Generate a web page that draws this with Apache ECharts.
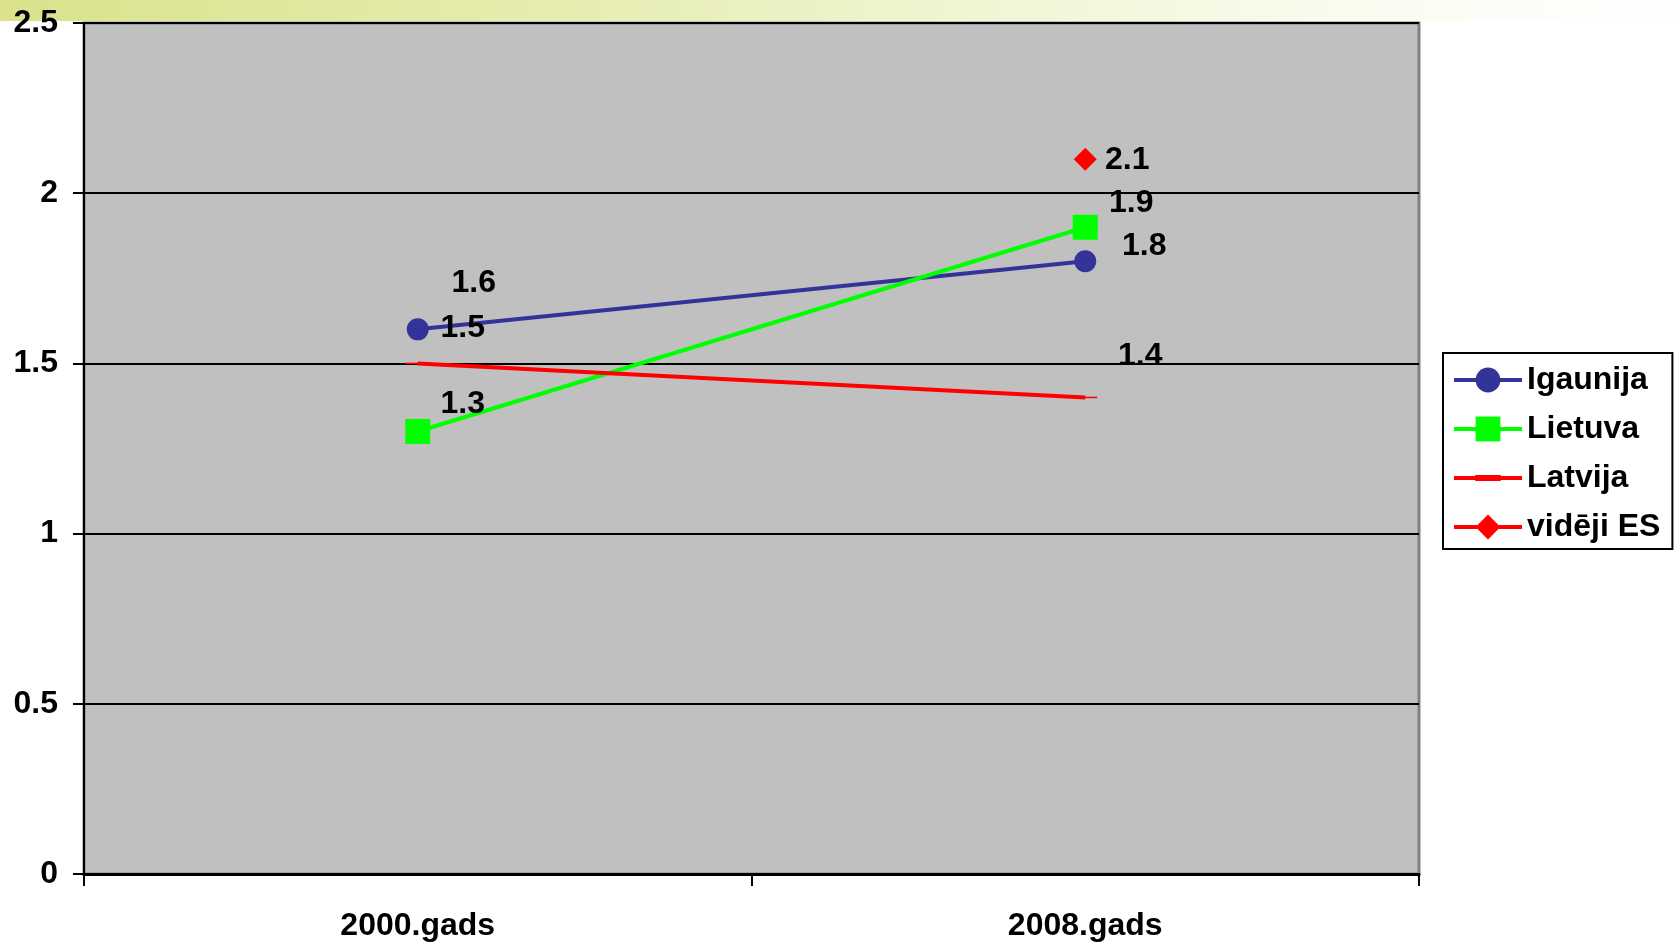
<!DOCTYPE html>
<html><head><meta charset="utf-8">
<script src="https://cdn.jsdelivr.net/npm/echarts@6/dist/echarts.min.js"></script>
<style>html,body{margin:0;padding:0;background:#fff}#c{width:1674px;height:943px}</style>
</head><body><div id="c"></div>
<script>
// ---- data ----
const categories = ['2000.gads', '2008.gads'];
const seriesNames = ['Igaunija', 'Lietuva', 'Latvija', 'vidēji ES'];
const igaunija = [1.6, 1.8];
const lietuva = [1.3, 1.9];
const latvija = [1.5, 1.4];
const videjiES = [null, 2.1];
const yMin = 0, yMax = 2.5, yInterval = 0.5;

// ---- styles ----
const FONT = "'Liberation Sans', Arial, sans-serif";
const labelOffsets = [
  [[56, -46], [59, -15]],
  [[45, -27], [46, -24]],
  [[45, -35], [55, -41]],
  [[0, 0], [42, 1]]
];
const colors = ['#333399', '#00FF00', '#FF0000', '#FF0000'];
const symbols = ['circle', 'rect', 'path://M0,0 H24 V6 H0 Z', 'diamond'];
const symbolSizes = [22, 25, [24, 6], 23];
const lineWidths = [4, 4, 4, 4];
const latvijaLegendIcon = 'path://M0,1 H67 V5 H0 Z M21,0 H46 V6 H21 Z';

const values = [igaunija, lietuva, latvija, videjiES];

const labelBase = {
  show: true, position: 'inside', color: '#000', fontFamily: FONT,
  fontWeight: 'bold', fontSize: 32, align: 'center', verticalAlign: 'middle'
};

const series = values.map((arr, si) => ({
  name: seriesNames[si],
  type: 'line',
  data: arr.map((v, i) => ({
    value: v,
    label: Object.assign({}, labelBase, { offset: labelOffsets[si][i] })
  })),
  symbol: symbols[si],
  symbolSize: symbolSizes[si],
  symbolKeepAspect: true,
  showAllSymbol: true,
  connectNulls: false,
  lineStyle: { color: colors[si], width: lineWidths[si] },
  itemStyle: { color: colors[si] },
  z: 3 + si
}));

const chart = echarts.init(document.getElementById('c'), null, { renderer: 'canvas' });
chart.setOption({
  animation: false,
  backgroundColor: '#fff',
  graphic: [{
    type: 'rect', z: -10, silent: true,
    shape: { x: 0, y: 0, width: 1674, height: 21 },
    style: {
      fill: new echarts.graphic.LinearGradient(0, 0, 1, 0, [
        { offset: 0, color: '#DBE28A' },
        { offset: 0.35, color: '#E7EDB2' },
        { offset: 0.6, color: '#F1F6D6' },
        { offset: 0.85, color: '#FBFDF4' },
        { offset: 1, color: '#FFFFFF' }
      ])
    }
  }],
  grid: {
    left: 84, right: 255, top: 23, bottom: 69,
    show: true, backgroundColor: '#C0C0C0', borderColor: '#808080', borderWidth: 3
  },
  legend: {
    orient: 'vertical',
    left: 1443, top: 353,
    padding: [11, 12, 6, 9],
    itemWidth: 68, itemHeight: 31, itemGap: 17,
    borderColor: '#000', borderWidth: 2, backgroundColor: '#fff',
    lineStyle: { width: 4 },
    textStyle: { fontFamily: FONT, fontWeight: 'bold', fontSize: 32, color: '#000', lineHeight: 32, padding: [0, 0, 0, 0] },
    data: [
      { name: seriesNames[0] },
      { name: seriesNames[1] },
      { name: seriesNames[2], icon: latvijaLegendIcon },
      { name: seriesNames[3] }
    ]
  },
  xAxis: {
    type: 'category',
    data: categories,
    boundaryGap: true,
    axisLine: { lineStyle: { color: '#000', width: 3 } },
    axisTick: { show: true, length: 12, lineStyle: { color: '#000', width: 2 } },
    axisLabel: { margin: 36, color: '#000', fontFamily: FONT, fontWeight: 'bold', fontSize: 32 },
    splitLine: { show: false }
  },
  yAxis: {
    type: 'value',
    min: yMin, max: yMax, interval: yInterval,
    axisLine: { show: true, lineStyle: { color: '#000', width: 2 } },
    axisTick: { show: true, length: 11, lineStyle: { color: '#000', width: 2 } },
    axisLabel: { margin: 26, color: '#000', fontFamily: FONT, fontWeight: 'bold', fontSize: 32 },
    splitLine: { show: true, lineStyle: { color: '#000', width: 2 } }
  },
  series: series
});
</script>
</body></html>
